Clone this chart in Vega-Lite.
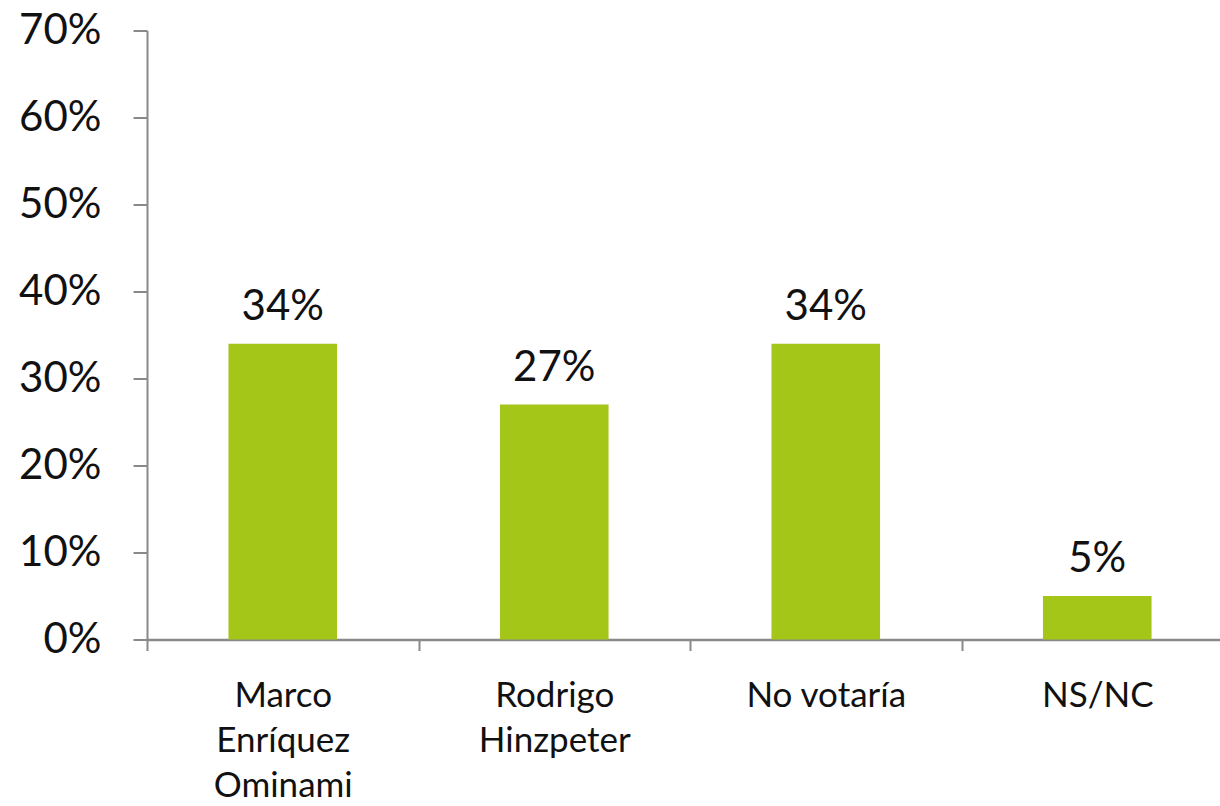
{
  "$schema": "https://vega.github.io/schema/vega-lite/v6.json",
  "autosize": {"type": "none"},
  "width": 1086,
  "height": 609,
  "padding": {"left": 147, "top": 30.5, "right": 0, "bottom": 166},
  "background": "white",
  "config": {"view": {"stroke": null}, "font": "Lato"},
  "data": {"values": [
    {"categoria": "Marco Enríquez Ominami", "valor": 0.34},
    {"categoria": "Rodrigo Hinzpeter", "valor": 0.27},
    {"categoria": "No votaría", "valor": 0.34},
    {"categoria": "NS/NC", "valor": 0.05}
  ]},
  "encoding": {
    "x": {
      "field": "categoria", "type": "nominal", "sort": null,
      "scale": {"paddingInner": 0, "paddingOuter": 0},
      "axis": {
        "title": null, "labelAngle": 0, "tickBand": "extent",
        "domainColor": "#898989", "domainWidth": 2.5, "tickColor": "#898989", "tickWidth": 2, "tickSize": 11,
        "labelFont": "Lato", "labelFontSize": 35, "labelColor": "#111111", "labelLineHeight": 45,
        "labelPadding": 28, "labelBaseline": "top",
        "labelExpr": "datum.value == 'Marco Enríquez Ominami' ? ['Marco','Enríquez','Ominami'] : datum.value == 'Rodrigo Hinzpeter' ? ['Rodrigo','Hinzpeter'] : datum.value"
      }
    },
    "y": {
      "field": "valor", "type": "quantitative",
      "scale": {"domain": [0, 0.7], "nice": false},
      "axis": {
        "title": null, "format": ".0%", "values": [0, 0.1, 0.2, 0.3, 0.4, 0.5, 0.6, 0.7],
        "grid": false, "domainColor": "#898989", "domainWidth": 2, "tickColor": "#898989", "tickWidth": 2, "tickSize": 14,
        "labelFont": "Lato", "labelFontSize": 42, "labelColor": "#111111", "labelPadding": 32
      }
    }
  },
  "layer": [
    {"mark": {"type": "bar", "color": "#A3C618", "width": {"band": 0.4}}},
    {
      "mark": {"type": "text", "dy": -24, "baseline": "alphabetic", "fontSize": 42, "color": "#111111", "font": "Lato"},
      "encoding": {"text": {"field": "valor", "type": "quantitative", "format": ".0%"}}
    }
  ]
}
